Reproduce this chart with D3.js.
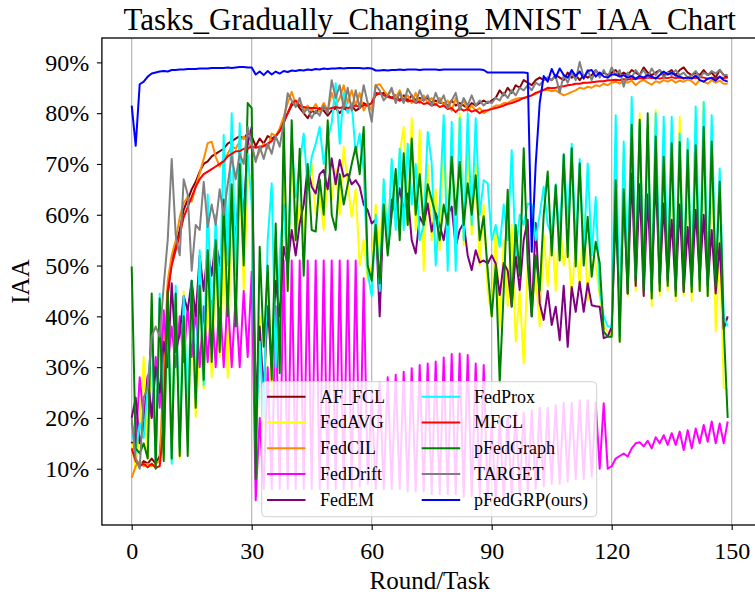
<!DOCTYPE html>
<html><head><meta charset="utf-8">
<script src="https://cdn.jsdelivr.net/npm/d3@7"></script>
<style>
body{margin:0;background:#fff;}
svg{display:block;}
text{font-family:"Liberation Serif","Times New Roman",serif;fill:#000;}
</style>
</head><body>
<svg id="chart" width="755" height="597"></svg>
<script>
// ---------------- DATA (values in %) ----------------
const rounds = d3.range(150);
const xTicks = [0, 30, 60, 90, 120, 150];
const yTicks = [10, 20, 30, 40, 50, 60, 70, 80, 90];
const yTickLabels = ["10%","20%","30%","40%","50%","60%","70%","80%","90%"];
const seriesNames = ["AF_FCL","FedAVG","FedCIL","FedDrift","FedEM","FedProx","MFCL","pFedGraph","TARGET","pFedGRP(ours)"];
const seriesColors = ["#8b0000","#ffff00","#ff8c00","#ff00ff","#800080","#00ffff","#ff0000","#008000","#808080","#0000ff"];

const AF_FCL = [15.3,12.0,10.5,11.5,11.0,12.0,11.0,12.5,22.0,44.0,
 51.0,54.0,57.0,61.0,63.0,65.0,66.5,68.5,70.0,70.5,
 71.5,72.0,72.5,73.0,74.0,74.5,75.0,75.5,75.0,76.0,
 75.5,73.5,75.0,74.0,75.5,75.0,75.5,76.5,78.5,80.0,
 81.5,82.2,81.0,80.0,79.0,80.5,80.0,81.0,80.5,79.5,
 80.5,81.0,80.0,81.0,80.5,81.5,80.5,81.0,82.0,81.5,
 82.0,84.0,83.8,84.0,83.5,83.0,83.5,82.5,83.5,82.5,
 83.5,82.5,83.0,82.5,83.0,82.0,82.5,82.0,82.0,81.5,
 82.5,81.5,82.0,81.5,81.0,82.0,81.5,82.0,82.5,82.0,
 82.5,83.0,84.5,83.5,85.0,84.0,85.5,85.0,86.5,86.0,
 85.5,86.5,87.0,86.5,87.0,86.5,87.5,87.0,86.5,88.0,
 87.0,87.5,86.5,87.5,87.0,87.5,88.5,87.5,88.0,87.5,
 88.0,88.5,87.5,88.0,87.5,88.5,88.0,87.5,89.0,88.0,
 87.5,88.0,88.5,87.5,88.0,88.5,87.5,88.5,89.0,88.0,
 87.5,88.0,87.5,88.5,87.5,88.0,87.0,88.5,87.5,87.0];

const FedAVG = [15,10,18,32,12,30,13,40,12,42,
 11.5,44,12,45,18,40,20.2,35,25.8,45,
 28,52,32,55,27.9,65,43.9,70.8,45,66.8,
 68,12,40,18,48,25,55,35,68,45,
 73,55,62,55.7,66,70.1,60,64,57,67,
 63,69,60,73.4,66.2,59.6,65,50,55,47,
 50,62,52,66,55,70,60,72,77.3,58,
 79,57,76.7,49,70,55,65,53,78,55,
 75,52,80,54,73,56,70,50,62,45,
 40,57.6,38,55,42,58,35,45,30.7,50,
 42,48,38,56,46,58,45,59,50,55,
 44,54.4,46,60,43,55,50,44,38,37,
 36,70,35,72,44,76,45,80,44,77,
 42,80.6,44,72,45,76,43,79.3,44,74,
 43,78,45,82.2,44,76,37,55,26,25.5];

const FedCIL = [8.2,10.5,11.5,10.5,11.0,10.5,11.0,11.5,30.0,47.0,
 52.0,55.0,59.5,62.3,63.5,62.6,65.5,68.2,71.0,74.1,
 74.4,71.4,69.5,71.0,72.0,73.5,73.0,74.5,75.4,74.5,
 73.0,70.8,72.5,74.0,73.0,76.0,75.5,77.0,79.3,82.0,
 84.2,81.8,82.5,80.5,81.5,80.5,81.8,80.3,82.0,80.5,
 84.0,81.5,83.0,85.5,82.0,84.5,81.5,84.0,80.5,82.0,
 80.5,85.5,85.7,84.5,83.5,84.5,83.0,84.5,82.5,83.5,
 82.0,84.0,82.0,83.5,82.0,83.0,81.5,83.0,81.5,82.5,
 80.5,83.0,81.0,82.5,80.5,81.5,80.5,81.0,80.0,80.5,
 81.0,81.5,81.5,82.0,82.0,82.5,82.8,83.0,83.0,83.3,
 83.5,83.8,84.2,84.5,84.6,84.3,84.5,84.0,83.5,83.8,
 84.2,84.5,85.0,84.8,85.2,85.0,85.5,85.3,85.8,85.5,
 86.0,86.2,85.8,86.3,86.0,86.4,85.5,86.2,86.5,86.0,
 85.6,86.3,86.0,86.5,86.2,86.6,86.0,86.4,86.2,86.6,
 86.3,85.6,86.5,86.2,85.8,86.5,86.0,86.4,85.8,85.8];

const FedDrift = [19,15,28,20,28.4,20.2,32,22,41.2,30,
 38,30,40,31,42,32,41,30,42,31,
 43,30,44,30,44,30,44,30,45,32,
 48.8,3.8,20,6,30,6,42,6,51,6,
 51,6,51,6,51,6,51,6,51,6,
 51,6,51,6,51,6,51,6.5,47.5,7,
 25,6,27,6,28,6,28.5,6,29.1,5.5,
 29.8,5.5,30.4,5.5,30.7,5,31.1,5,31.9,5,
 32.6,5,32.7,4.5,32.4,4.5,30.7,4.5,30.4,4,
 19,4,20,4,20.5,4.5,21,5,21,5.5,
 21.5,6,22,6.5,22,7,22.5,7,23,7.5,
 23,8,23.5,8,23.5,8.5,23,10,22.9,10,
 10.5,12,12.5,13,12.4,14,15,15.2,14.4,15.5,
 14,16.2,15,16.6,14.7,17,14.7,17.3,13.7,17.6,
 14,17.9,15,18.6,15.3,19.3,15,18.9,15,19.3];

const FedEM = [20,24,15,18,28,20,30,25,35,30,
 46.5,33,36.6,44,41.2,47,40,52,45,53,
 48,55,50,58,52,62,55,68,60,74,
 77.3,22,38,25,42,30,47,40,53.7,50,
 57,52,58.3,62,69.4,65.5,64.2,68,68.8,65,
 71.1,66,70.8,67.5,68,66,66.8,65.5,62,60.9,
 58.3,59,40,62,55,63,60,65.2,60.9,64.2,
 55,52.4,59.6,58,62.2,56.7,60.3,58,55,60,
 61.6,53.7,57,58.4,52,49.1,53,50.6,51,50.4,
 52,50.4,44.2,50.5,49,41.9,52,45.2,55,59,
 40,58.4,42.6,39.3,45,38.3,41.9,35.3,46,34,
 45.8,40.9,46.8,40.9,46.5,42.2,42,41.9,35.7,36,
 38,60,42,64,44.5,68.1,46,66,44,64,
 45,68,46.5,62.2,47,59,45,62,44.8,57.6,
 46,61,47.5,60,46,57,44.5,54.4,37.5,40];

const FedProx = [18,13,19,16,26,36,11.5,44.5,13,43,
 11,46,14,44,20,47,24,53,26.5,64,
 35,60,42,75.7,50,80,48,78,55,72,
 62,15,35,20,55,66.2,30,52,62,48,
 74,63.5,70,76,65,71.4,74,77.3,70,75,
 78,85.9,74,84,80,82,72,76,68.8,48.5,
 44,60,45,67,54,71,57,73,57,74,
 62,70,55,58,76.3,70.1,50,62,79.6,49,
 78.3,49,79,55,80,58,79,60,66.8,66.2,
 55,58,53.7,62,55,72.7,52,60,58,62.2,
 62,55,60,65.5,58,56,66,55,72,58,
 74,54,71,52,70.1,52,63.5,45,40,38,
 38,79.6,36,74.4,47,83.2,48,78,47,77,
 45,80,47,79.3,48,79.3,46,76,47,75,
 46,81.3,47,82.2,46,79.6,48,69.1,40,38];

const MFCL = [14.0,11.5,10.5,11.0,10.3,11.0,10.2,10.5,18.0,45.0,
 50.0,53.0,56.0,59.5,61.5,63.5,65.5,67.0,68.0,68.5,
 69.0,69.5,70.0,70.5,71.5,72.0,72.5,72.5,73.0,73.0,
 73.5,73.2,73.4,73.5,74.0,74.5,75.5,76.5,78.0,80.0,
 82.0,82.5,81.5,81.2,81.0,81.0,81.0,80.8,81.0,80.8,
 81.0,81.2,81.0,81.2,81.0,81.3,81.5,81.2,81.6,81.5,
 82.0,83.5,84.0,83.5,83.2,83.0,82.8,82.5,82.8,82.3,
 82.5,82.0,82.3,81.8,82.0,81.5,81.8,81.2,81.5,80.8,
 81.0,80.2,81.0,80.5,80.8,80.3,80.6,80.0,80.5,80.6,
 80.8,81.0,81.2,81.5,81.8,82.0,82.3,82.6,83.0,83.2,
 83.5,84.0,84.3,84.6,85.0,84.9,85.0,85.2,85.3,85.5,
 85.6,85.8,85.8,86.0,86.0,86.1,86.2,86.3,86.3,86.5,
 86.5,86.6,86.5,86.7,86.6,86.8,86.7,86.9,86.8,87.0,
 86.9,87.0,86.8,87.0,86.9,87.1,86.9,87.0,86.8,87.1,
 87.0,86.9,87.1,87.0,86.8,87.0,86.9,87.1,86.9,87.0];

const pFedGraph = [49.8,14,13,15,12,44.5,10,43.5,11.5,45,
 12,44.5,12.5,40,12.5,47,22,46,27.5,53,
 31,55,33,63,40,66,38,70,50,82,
 81,8,53.7,34,50,27.5,58.3,28.8,78,45,
 78.6,55,73,48,70,57,56.7,67,60,78.6,
 60,57,68,62,66,70,73.4,68,77.3,50,
 47,58,46.5,62,52,60,69,55,72.1,58,
 75,60,68,58,66,63,60,55,62,58,
 71.4,60,70.4,58,66.2,60,67.8,55,59.7,49,
 40,50,27,45,64.9,42,58,48,73.1,50.4,
 40,52,45,60,68.5,52,65.8,51,71.8,51.7,
 73.1,49.8,70.1,50,59.6,47.8,54.7,50.5,37,36,
 36,66.8,35,65,44.5,77.7,46.8,78.7,45,80,
 43.5,75.4,45,71.4,46,74.1,44,74.3,45,72.7,
 44.8,73.7,45,77.3,44,74.4,46,66.5,38,20];

const TARGET = [20.0,12.0,10.0,24.0,26.0,36.0,38.0,36.0,46.0,55.0,
 71.0,56.0,52.0,67.0,64.0,49.0,58.0,57.0,66.5,57.6,
 62.0,58.0,65.0,60.0,66.0,71.5,67.0,72.0,70.0,77.3,
 74.0,70.4,73.5,71.0,74.0,72.0,75.5,73.4,78.0,83.9,
 82.5,81.2,83.0,80.0,81.0,79.0,80.5,79.5,81.5,80.0,
 86.5,83.0,85.5,81.0,85.0,80.5,84.5,81.0,85.5,82.0,
 78.3,85.5,84.5,82.5,83.5,85.0,82.0,84.0,82.0,84.8,
 83.5,82.0,84.5,82.5,83.5,81.5,84.0,82.0,83.5,81.0,
 82.5,84.0,80.6,83.0,81.5,83.5,81.5,82.5,81.5,82.3,
 82.0,83.0,82.5,84.0,83.0,84.5,83.5,85.0,84.5,85.5,
 84.5,86.0,85.5,86.5,87.0,86.5,87.3,84.0,87.5,86.0,
 88.0,86.5,90.1,87.0,88.5,86.5,88.5,87.0,88.5,87.0,
 89.0,87.5,88.5,85.2,88.0,87.0,88.5,87.5,88.5,87.0,
 88.8,87.5,88.5,87.0,88.0,87.5,88.5,87.5,88.0,87.0,
 87.5,88.3,87.0,88.0,87.5,88.3,87.8,88.5,87.5,87.5];

const pFedGRP = [81.5,73.6,85.7,86.2,87.2,87.8,88.0,88.2,88.3,88.2,
 88.5,88.5,88.6,88.6,88.7,88.7,88.7,88.8,88.8,88.8,
 88.9,88.9,88.9,88.9,89.0,88.9,89.0,89.1,89.1,89.0,
 89.0,87.6,88.2,87.5,88.3,87.6,88.2,87.8,88.3,88.1,
 88.4,88.3,88.5,88.4,88.6,88.5,88.7,88.6,88.8,88.7,
 88.8,88.8,88.9,88.8,88.9,88.9,88.9,88.9,88.8,88.9,
 88.8,88.4,88.4,88.5,88.4,88.5,88.5,88.6,88.5,88.6,
 88.6,88.6,88.5,88.6,88.6,88.6,88.6,88.5,88.6,88.6,
 88.6,88.6,88.6,88.6,88.6,88.6,88.6,88.6,88.5,88.0,
 88.0,88.0,88.0,88.0,88.0,88.0,88.0,88.0,88.0,87.9,
 52.7,70.0,82.0,87.3,86.2,88.7,87.0,88.8,87.5,87.0,
 88.5,87.3,88.2,86.8,88.3,88.5,87.2,88.0,87.2,87.0,
 87.6,87.6,87.2,87.5,87.0,87.3,86.8,87.3,87.0,87.5,
 87.2,86.8,87.5,88.2,87.6,88.0,87.4,87.2,86.9,87.0,
 86.8,87.4,86.5,86.2,86.8,86.9,86.4,87.2,86.5,86.2];

const seriesValues = [AF_FCL, FedAVG, FedCIL, FedDrift, FedEM, FedProx, MFCL, pFedGraph, TARGET, pFedGRP];

// ---------------- DRAW ----------------
(function draw() {
  const svg = d3.select("#chart");
  const pLeft = 101.9, pRight = 757.5, pTop = 38, pBottom = 525;
  const x = d3.scaleLinear().domain([-7.45, 156.45]).range([pLeft, pRight]);
  const y = d3.scaleLinear().domain([-1.08, 94.8]).range([pBottom, pTop]);

  svg.append("rect").attr("width",755).attr("height",597).attr("fill","#fff");

  // vertical grid
  svg.append("g").selectAll("line").data(xTicks).join("line")
    .attr("x1", d => x(d)).attr("x2", d => x(d))
    .attr("y1", pTop).attr("y2", pBottom)
    .attr("stroke", "#b0b0b0").attr("stroke-width", 1.1);

  // series
  const line = d3.line().x((d,i) => x(rounds[i])).y(d => y(d));
  const sg = svg.append("g");
  seriesValues.forEach((vals, k) => {
    sg.append("path").datum(vals)
      .attr("d", line)
      .attr("fill","none")
      .attr("stroke", seriesColors[k])
      .attr("stroke-width", 2)
      .attr("stroke-linejoin","round");
  });

  // frame
  svg.append("rect").attr("x", pLeft).attr("y", pTop)
    .attr("width", pRight-pLeft).attr("height", pBottom-pTop)
    .attr("fill","none").attr("stroke","#000").attr("stroke-width",1.3);

  // axes
  const xAxis = svg.append("g").attr("transform", `translate(0,${pBottom})`)
    .call(d3.axisBottom(x).tickValues(xTicks).tickSize(5).tickPadding(11.5).tickFormat(d3.format("d")));
  xAxis.select(".domain").remove();
  xAxis.selectAll("line").attr("stroke","#000").attr("stroke-width",1.1);
  xAxis.selectAll("text").attr("font-size",24).attr("font-family","Liberation Serif");

  const yAxis = svg.append("g").attr("transform", `translate(${pLeft},0)`)
    .call(d3.axisLeft(y).tickValues(yTicks).tickSize(5).tickPadding(7.6).tickFormat((d,i) => yTickLabels[i]));
  yAxis.select(".domain").remove();
  yAxis.selectAll("line").attr("stroke","#000").attr("stroke-width",1.1);
  yAxis.selectAll("text").attr("font-size",24).attr("font-family","Liberation Serif");

  // titles
  svg.append("text").attr("x", (pLeft+pRight)/2).attr("y", 30)
    .attr("text-anchor","middle").attr("font-size",31)
    .text("Tasks_Gradually_Changing_MNIST_IAA_Chart");
  svg.append("text").attr("x", (pLeft+pRight)/2).attr("y", 588.5)
    .attr("text-anchor","middle").attr("font-size",25).text("Round/Task");
  svg.append("text").attr("transform", `translate(29,${(pTop+pBottom)/2}) rotate(-90)`)
    .attr("text-anchor","middle").attr("font-size",25).text("IAA");

  // legend
  const lg = svg.append("g");
  lg.append("rect").attr("x",261.7).attr("y",381.7).attr("width",335).attr("height",135)
    .attr("rx",4).attr("fill","#fff").attr("fill-opacity",0.8)
    .attr("stroke","#d0d0d0").attr("stroke-width",1);
  seriesNames.forEach((name, k) => {
    const col = Math.floor(k/5), row = k%5;
    const lx = col === 0 ? 267 : 421.7;
    const tx = col === 0 ? 320 : 474;
    const ly = 396.7 + row*25.8;
    lg.append("line").attr("x1",lx).attr("x2",lx+38.5).attr("y1",ly).attr("y2",ly)
      .attr("stroke",seriesColors[k]).attr("stroke-width",2);
    lg.append("text").attr("x",tx).attr("y",ly).attr("dy","0.33em")
      .attr("font-size",18).text(name);
  });
})();
</script>
</body></html>
